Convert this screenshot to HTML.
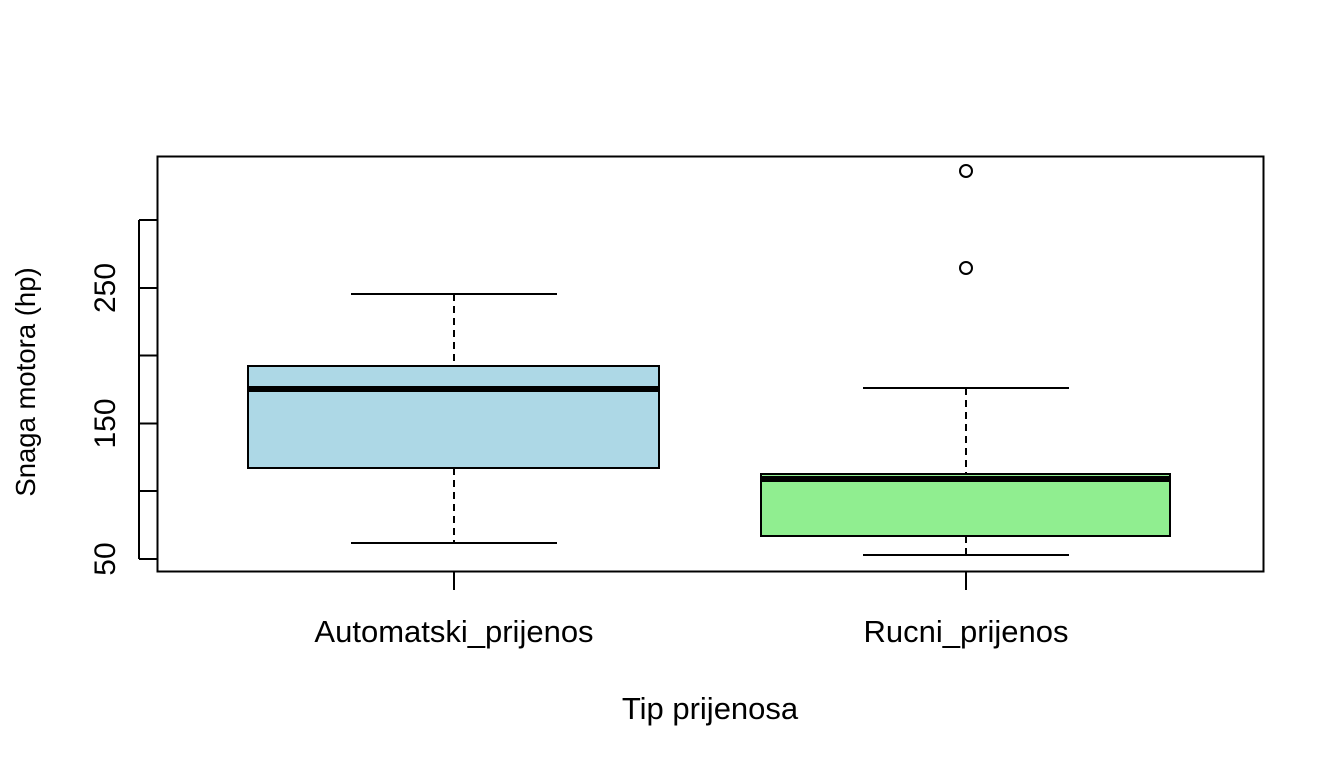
<!DOCTYPE html>
<html><head><meta charset="utf-8"><style>
html,body{margin:0;padding:0;background:#fff;}
svg{display:block;}
text{font-family:"Liberation Sans",Arial,sans-serif;fill:#000;}
</style></head><body>
<svg width="1344" height="768" viewBox="0 0 1344 768" xmlns="http://www.w3.org/2000/svg">
<rect x="0" y="0" width="1344" height="768" fill="#fff"/>
<rect x="157.5" y="156.5" width="1106" height="415" fill="none" stroke="#000" stroke-width="2"/>
<g stroke="#000" stroke-width="2">
<line x1="139" y1="559" x2="139" y2="220"/>
<line x1="139" y1="559" x2="157" y2="559"/>
<line x1="139" y1="491" x2="157" y2="491"/>
<line x1="139" y1="423.5" x2="157" y2="423.5"/>
<line x1="139" y1="355.5" x2="157" y2="355.5"/>
<line x1="139" y1="288" x2="157" y2="288"/>
<line x1="139" y1="220" x2="157" y2="220"/>
</g>
<g font-size="30" text-anchor="middle">
<text transform="translate(115,559) rotate(-90)">50</text>
<text transform="translate(115,423.5) rotate(-90)">150</text>
<text transform="translate(115,288) rotate(-90)">250</text>
</g>
<g stroke="#000" stroke-width="2">
<line x1="454" y1="571" x2="454" y2="590"/>
<line x1="966" y1="571" x2="966" y2="590"/>
</g>
<g font-size="31" text-anchor="middle">
<text x="454" y="642">Automatski_prijenos</text>
<text x="966" y="642">Rucni_prijenos</text>
<text x="710" y="719">Tip prijenosa</text>
</g>
<text font-size="27.5" text-anchor="middle" transform="translate(35,382) rotate(-90)">Snaga motora (hp)</text>
<g stroke="#000" stroke-width="2">
<line x1="454" y1="294" x2="454" y2="366" stroke-dasharray="7,5"/>
<line x1="454" y1="468" x2="454" y2="543" stroke-dasharray="7,5"/>
<line x1="351" y1="294" x2="557" y2="294"/>
<line x1="351" y1="543" x2="557" y2="543"/>
<rect x="248" y="366" width="411" height="102" fill="#add8e6"/>
<line x1="248" y1="389" x2="659" y2="389" stroke-width="6"/>
</g>
<g stroke="#000" stroke-width="2">
<line x1="966" y1="388" x2="966" y2="474" stroke-dasharray="7,5"/>
<line x1="966" y1="536" x2="966" y2="555" stroke-dasharray="7,5"/>
<line x1="863" y1="388" x2="1069" y2="388"/>
<line x1="863" y1="555" x2="1069" y2="555"/>
<rect x="761" y="474" width="409" height="62" fill="#90ee90"/>
<line x1="761" y1="479" x2="1170" y2="479" stroke-width="6"/>
<circle cx="966" cy="171" r="6" fill="none"/>
<circle cx="966" cy="268" r="6" fill="none"/>
</g>
</svg>
</body></html>
